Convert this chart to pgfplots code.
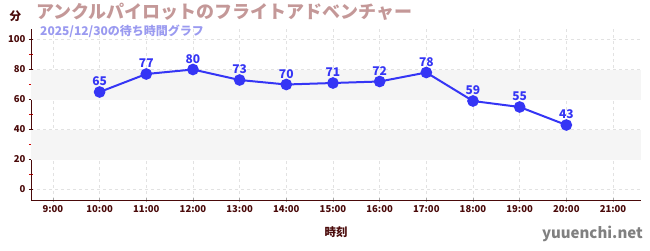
\documentclass[border=0pt]{standalone}
\usepackage{fontspec}
\setmainfont{Noto Sans CJK JP}
\usepackage{pgfplots}
\pgfplotsset{compat=1.18}
\definecolor{maroon}{HTML}{4A0A0A}
\definecolor{ttl}{HTML}{C49898}
\definecolor{sub}{HTML}{9A9AF0}
\definecolor{ln}{HTML}{3535F5}
\definecolor{band}{HTML}{F5F5F5}
\definecolor{grd}{HTML}{E2E2E2}
\begin{document}
\begin{tikzpicture}[x=1pt,y=1pt]
\path[use as bounding box] (0,0) rectangle (650,250);
\begin{axis}[
  at={(31pt,50pt)}, anchor=south west,
  scale only axis, width=610pt, height=171pt,
  xmin=8.53, xmax=21.6, ymin=-7, ymax=107,
  axis x line*=bottom, axis y line*=left,
  axis line style={maroon, line width=0.8pt},
  xtick={9,...,21},
  xticklabels={9:00,10:00,11:00,12:00,13:00,14:00,15:00,16:00,17:00,18:00,19:00,20:00,21:00},
  ytick={0,20,...,100},
  minor ytick={10,30,...,90},
  grid=major,
  major grid style={grd, dashed, line width=0.6pt},
  tick style={maroon},
  x tick style={gray!70, line width=0.6pt},
  minor tick style={red!80!black, line width=0.6pt},
  major tick length=4pt, minor tick length=4pt,
  tick align=center,
  ticklabel style={font=\fontsize{9.5}{11}\selectfont\bfseries, text=maroon},
  /pgf/number format/assume math mode=true,
  clip=false,
]
\fill[band] (axis cs:8.53,20) rectangle (axis cs:21.6,40);
\fill[band] (axis cs:8.53,60) rectangle (axis cs:21.6,80);
\addplot[ln, line width=2pt, mark=*, mark size=4.8pt,
  nodes near coords, every node near coord/.style={font=\fontsize{12}{13}\selectfont\bfseries, text=ln, anchor=south, yshift=2pt}]
  coordinates {(10,65) (11,77) (12,80) (13,73) (14,70) (15,71) (16,72) (17,78) (18,59) (19,55) (20,43)};
\end{axis}
\node[anchor=west, text=maroon, font=\fontsize{11.5}{12}\selectfont\bfseries] at (6,234) {分};
\node[anchor=west, text=ttl, font=\fontsize{18}{20}\selectfont\bfseries, inner sep=0pt] at (36,238) {アンクルパイロットのフライトアドベンチャー};
\node[anchor=west, text=sub, font=\fontsize{12}{13}\selectfont\bfseries, inner sep=0pt] at (40,219) {2025/12/30の待ち時間グラフ};
\node[text=maroon, font=\fontsize{11.5}{12}\selectfont\bfseries] at (336,18) {時刻};
\node[anchor=east, text=gray, font=\fontsize{15}{16}\selectfont\bfseries, inner sep=0pt] at (643,16) {yuuenchi.net};
\end{tikzpicture}
\end{document}
